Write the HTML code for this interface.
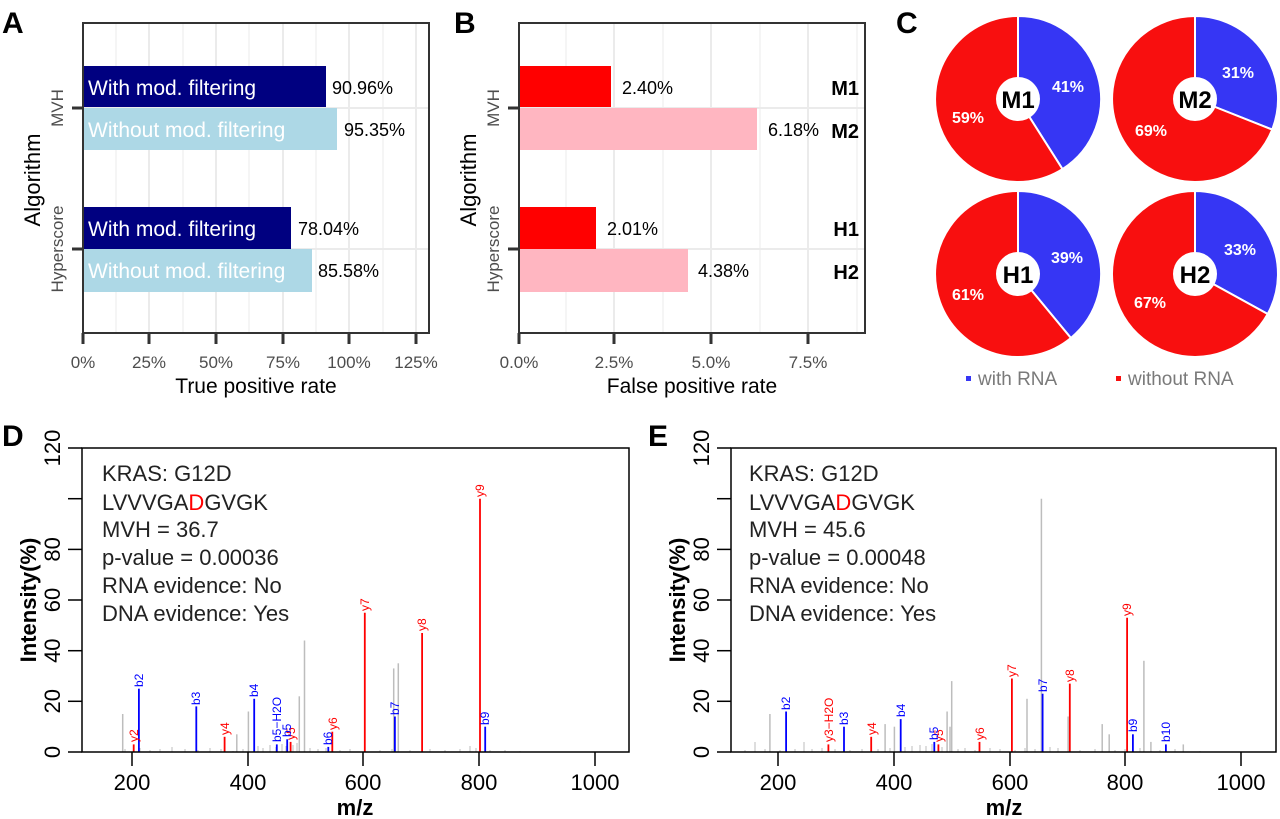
<!DOCTYPE html>
<html><head><meta charset="utf-8"><style>
html,body{margin:0;padding:0;background:#fff;}
svg{display:block;font-family:"Liberation Sans",sans-serif;}
</style></head><body>
<svg width="1280" height="819" viewBox="0 0 1280 819" xmlns="http://www.w3.org/2000/svg">
<!-- Panel letters -->
<g font-weight="bold" font-size="30" fill="#000">
<text x="2" y="33">A</text><text x="454" y="33">B</text><text x="896" y="33">C</text>
<text x="2" y="446">D</text><text x="648" y="446">E</text>
</g>

<!-- Panel A -->
<g>
<g stroke="#ebebeb">
<line x1="116" y1="23" x2="116" y2="333" stroke-width="1"/>
<line x1="183" y1="23" x2="183" y2="333" stroke-width="1"/>
<line x1="249" y1="23" x2="249" y2="333" stroke-width="1"/>
<line x1="316" y1="23" x2="316" y2="333" stroke-width="1"/>
<line x1="383" y1="23" x2="383" y2="333" stroke-width="1"/>
<line x1="149" y1="23" x2="149" y2="333" stroke-width="2"/>
<line x1="216" y1="23" x2="216" y2="333" stroke-width="2"/>
<line x1="283" y1="23" x2="283" y2="333" stroke-width="2"/>
<line x1="349" y1="23" x2="349" y2="333" stroke-width="2"/>
<line x1="416" y1="23" x2="416" y2="333" stroke-width="2"/>
<line x1="83" y1="108" x2="429" y2="108" stroke-width="2"/>
<line x1="83" y1="249" x2="429" y2="249" stroke-width="2"/>
</g>
<rect x="83" y="66" width="243" height="41" fill="#000080"/>
<rect x="83" y="108" width="254" height="42" fill="#add8e6"/>
<rect x="83" y="207" width="208" height="42" fill="#000080"/>
<rect x="83" y="249" width="229" height="43" fill="#add8e6"/>
<g font-size="21" fill="#fff">
<text x="88" y="95">With mod. filtering</text>
<text x="88" y="137">Without mod. filtering</text>
<text x="88" y="236">With mod. filtering</text>
<text x="88" y="278">Without mod. filtering</text>
</g>
<g font-size="18" fill="#000">
<text x="332" y="94">90.96%</text>
<text x="344" y="136">95.35%</text>
<text x="298" y="235">78.04%</text>
<text x="318" y="277">85.58%</text>
</g>
<rect x="83" y="23" width="346" height="310" fill="none" stroke="#333" stroke-width="2"/>
<g stroke="#333" stroke-width="3">
<line x1="72" y1="108" x2="83" y2="108"/><line x1="72" y1="249" x2="83" y2="249"/>
<line x1="83" y1="333" x2="83" y2="344"/><line x1="149" y1="333" x2="149" y2="344"/>
<line x1="216" y1="333" x2="216" y2="344"/><line x1="283" y1="333" x2="283" y2="344"/>
<line x1="349" y1="333" x2="349" y2="344"/><line x1="416" y1="333" x2="416" y2="344"/>
</g>
<g font-size="17" fill="#4d4d4d" text-anchor="middle">
<text x="83" y="368">0%</text><text x="149" y="368">25%</text><text x="216" y="368">50%</text>
<text x="283" y="368">75%</text><text x="349" y="368">100%</text><text x="416" y="368">125%</text>
<text transform="translate(63,108) rotate(-90)">MVH</text>
<text transform="translate(63,249) rotate(-90)">Hyperscore</text>
</g>
<text x="256" y="393" font-size="21" text-anchor="middle">True positive rate</text>
<text transform="translate(40,180) rotate(-90)" font-size="22" text-anchor="middle">Algorithm</text>
</g>

<!-- Panel B -->
<g>
<g stroke="#ebebeb">
<line x1="566" y1="23" x2="566" y2="333" stroke-width="1"/>
<line x1="663" y1="23" x2="663" y2="333" stroke-width="1"/>
<line x1="760" y1="23" x2="760" y2="333" stroke-width="1"/>
<line x1="857" y1="23" x2="857" y2="333" stroke-width="1"/>
<line x1="614" y1="23" x2="614" y2="333" stroke-width="2"/>
<line x1="711" y1="23" x2="711" y2="333" stroke-width="2"/>
<line x1="808" y1="23" x2="808" y2="333" stroke-width="2"/>
<line x1="519" y1="108" x2="865" y2="108" stroke-width="2"/>
<line x1="519" y1="249" x2="865" y2="249" stroke-width="2"/>
</g>
<rect x="519" y="66" width="92" height="41" fill="#ff0000"/>
<rect x="519" y="108" width="238" height="42" fill="#ffb6c1"/>
<rect x="519" y="207" width="77" height="42" fill="#ff0000"/>
<rect x="519" y="249" width="169" height="43" fill="#ffb6c1"/>
<g font-size="18" fill="#000">
<text x="622" y="94">2.40%</text>
<text x="768" y="136">6.18%</text>
<text x="607" y="235">2.01%</text>
<text x="698" y="277">4.38%</text>
</g>
<g font-size="20" font-weight="bold" text-anchor="end">
<text x="859" y="95">M1</text><text x="859" y="138">M2</text>
<text x="859" y="236">H1</text><text x="859" y="279">H2</text>
</g>
<rect x="519" y="23" width="346" height="310" fill="none" stroke="#333" stroke-width="2"/>
<g stroke="#333" stroke-width="3">
<line x1="508" y1="108" x2="519" y2="108"/><line x1="508" y1="249" x2="519" y2="249"/>
<line x1="519" y1="333" x2="519" y2="344"/><line x1="614" y1="333" x2="614" y2="344"/>
<line x1="711" y1="333" x2="711" y2="344"/><line x1="808" y1="333" x2="808" y2="344"/>
</g>
<g font-size="17" fill="#4d4d4d" text-anchor="middle">
<text x="519" y="368">0.0%</text><text x="614" y="368">2.5%</text>
<text x="711" y="368">5.0%</text><text x="808" y="368">7.5%</text>
<text transform="translate(499,108) rotate(-90)">MVH</text>
<text transform="translate(499,249) rotate(-90)">Hyperscore</text>
</g>
<text x="692" y="393" font-size="21" text-anchor="middle">False positive rate</text>
<text transform="translate(476,180) rotate(-90)" font-size="22" text-anchor="middle">Algorithm</text>
</g>

<!-- Panel C -->
<g stroke="#fff" stroke-width="2">
<path d="M1018,99 L1018,16 A83,83 0 0 1 1062.5,169.1 Z" fill="#3636f4"/>
<path d="M1018,99 L1062.5,169.1 A83,83 0 1 1 1018,16 Z" fill="#f80f0f"/>
<path d="M1195,99 L1195,16 A83,83 0 0 1 1272.2,129.6 Z" fill="#3636f4"/>
<path d="M1195,99 L1272.2,129.6 A83,83 0 1 1 1195,16 Z" fill="#f80f0f"/>
<path d="M1018,274 L1018,191 A83,83 0 0 1 1070.9,338 Z" fill="#3636f4"/>
<path d="M1018,274 L1070.9,338 A83,83 0 1 1 1018,191 Z" fill="#f80f0f"/>
<path d="M1195,274 L1195,191 A83,83 0 0 1 1267.7,314 Z" fill="#3636f4"/>
<path d="M1195,274 L1267.7,314 A83,83 0 1 1 1195,191 Z" fill="#f80f0f"/>
</g>
<g fill="#fff">
<circle cx="1018" cy="99" r="22"/><circle cx="1195" cy="99" r="22"/>
<circle cx="1018" cy="274" r="22"/><circle cx="1195" cy="274" r="22"/>
</g>
<g font-size="24" font-weight="bold" text-anchor="middle" fill="#000">
<text x="1018" y="108">M1</text><text x="1195" y="108">M2</text>
<text x="1018" y="283">H1</text><text x="1195" y="283">H2</text>
</g>
<g font-size="16" font-weight="bold" text-anchor="middle" fill="#fff">
<text x="1068" y="92">41%</text><text x="968" y="123">59%</text>
<text x="1238" y="78">31%</text><text x="1151" y="136">69%</text>
<text x="1067" y="263">39%</text><text x="968" y="300">61%</text>
<text x="1240" y="255">33%</text><text x="1150" y="308">67%</text>
</g>
<rect x="966" y="376" width="5" height="5" fill="#3636f4"/>
<rect x="1116" y="376" width="5" height="5" fill="#f80f0f"/>
<g font-size="19" fill="#7a7a7a">
<text x="978" y="385">with RNA</text><text x="1128" y="385">without RNA</text>
</g>

<!-- Panel D -->
<g>
<path d="M125,752V749M140,752V748M150,752V750M160,752V749M172,752V747M185,752V749M198,752V750M210,752V748M221,752V749M233,752V751M243,752V749M258,752V746M263,752V748M270,752V745M276,752V747M282,752V744M286,752V746M293,752V745M297,752V743M310,752V748M318,752V749M326,752V748M340,752V750M350,752V749M365,752V748M380,752V750M392,752V749M410,752V750M430,752V749M445,752V750M460,752V749M470,752V746M476,752V748M490,752V750M505,752V750M520,752V751" stroke="#bdbdbd" stroke-width="1"/>
<g stroke="#bdbdbd" stroke-width="1.5">
<line x1="122.7" y1="752" x2="122.7" y2="714"/>
<line x1="236.8" y1="752" x2="236.8" y2="734.3"/>
<line x1="248.4" y1="752" x2="248.4" y2="711.5"/>
<line x1="299.3" y1="752" x2="299.3" y2="696.3"/>
<line x1="304.5" y1="752" x2="304.5" y2="640.5"/>
<line x1="393.7" y1="752" x2="393.7" y2="668.4"/>
<line x1="398.3" y1="752" x2="398.3" y2="663.3"/>
</g>
<g stroke="#ff0000" stroke-width="1.8">
<line x1="133.7" y1="752" x2="133.7" y2="744.4"/>
<line x1="224.6" y1="752" x2="224.6" y2="736.8"/>
<line x1="290.6" y1="752" x2="290.6" y2="741.9"/>
<line x1="332.3" y1="752" x2="332.3" y2="731.7"/>
<line x1="364.8" y1="752" x2="364.8" y2="612.7"/>
<line x1="422.1" y1="752" x2="422.1" y2="633"/>
<line x1="480" y1="752" x2="480" y2="498.7"/>
</g>
<g stroke="#0000ff" stroke-width="1.8">
<line x1="138.9" y1="752" x2="138.9" y2="688.7"/>
<line x1="196.3" y1="752" x2="196.3" y2="706.4"/>
<line x1="254.2" y1="752" x2="254.2" y2="698.8"/>
<line x1="276.8" y1="752" x2="276.8" y2="744.4"/>
<line x1="287.2" y1="752" x2="287.2" y2="739.3"/>
<line x1="328.3" y1="752" x2="328.3" y2="746.9"/>
<line x1="394.9" y1="752" x2="394.9" y2="716.5"/>
<line x1="485.2" y1="752" x2="485.2" y2="726.7"/>
</g>
<g font-size="12" fill="#ff0000">
<text transform="translate(138,742) rotate(-90)">y2</text>
<text transform="translate(229,735) rotate(-90)">y4</text>
<text transform="translate(295,740) rotate(-90)">y5</text>
<text transform="translate(337,730) rotate(-90)">y6</text>
<text transform="translate(369,611) rotate(-90)">y7</text>
<text transform="translate(426,631) rotate(-90)">y8</text>
<text transform="translate(484,497) rotate(-90)">y9</text>
</g>
<g font-size="12" fill="#0000ff">
<text transform="translate(143,687) rotate(-90)">b2</text>
<text transform="translate(200,705) rotate(-90)">b3</text>
<text transform="translate(258,697) rotate(-90)">b4</text>
<text transform="translate(281,742) rotate(-90)">b5−H2O</text>
<text transform="translate(291,737) rotate(-90)">b5</text>
<text transform="translate(332,745) rotate(-90)">b6</text>
<text transform="translate(399,715) rotate(-90)">b7</text>
<text transform="translate(489,725) rotate(-90)">b9</text>
</g>
<rect x="82" y="448" width="547" height="304" fill="none" stroke="#000" stroke-width="1.5"/>
<g stroke="#000" stroke-width="1.5">
<line x1="68" y1="752" x2="82" y2="752"/><line x1="68" y1="701.3" x2="82" y2="701.3"/>
<line x1="68" y1="650.7" x2="82" y2="650.7"/><line x1="68" y1="600" x2="82" y2="600"/>
<line x1="68" y1="549.4" x2="82" y2="549.4"/><line x1="68" y1="498.7" x2="82" y2="498.7"/>
<line x1="68" y1="448" x2="82" y2="448"/>
<line x1="132" y1="752" x2="132" y2="766"/><line x1="248" y1="752" x2="248" y2="766"/>
<line x1="363" y1="752" x2="363" y2="766"/><line x1="479" y1="752" x2="479" y2="766"/>
<line x1="595" y1="752" x2="595" y2="766"/>
</g>
<g font-size="22" text-anchor="middle">
<text transform="translate(60,752) rotate(-90)">0</text>
<text transform="translate(60,701.3) rotate(-90)">20</text>
<text transform="translate(60,650.7) rotate(-90)">40</text>
<text transform="translate(60,600) rotate(-90)">60</text>
<text transform="translate(60,549.4) rotate(-90)">80</text>
<text transform="translate(60,448) rotate(-90)">120</text>
<text x="132" y="790">200</text><text x="248" y="790">400</text>
<text x="363" y="790">600</text><text x="479" y="790">800</text><text x="595" y="790">1000</text>
</g>
<text x="355" y="815" font-size="22" font-weight="bold" text-anchor="middle">m/z</text>
<text transform="translate(36,600) rotate(-90)" font-size="22" font-weight="bold" text-anchor="middle">Intensity(%)</text>
<g font-size="22" fill="#222">
<text x="102" y="481">KRAS: G12D</text>
<text x="102" y="510">LVVVGA<tspan fill="#ff0000">D</tspan>GVGK</text>
<text x="102" y="537">MVH = 36.7</text>
<text x="102" y="565">p-value = 0.00036</text>
<text x="102" y="593">RNA evidence: No</text>
<text x="102" y="621">DNA evidence: Yes</text>
</g>
</g>

<!-- Panel E -->
<g>
<path d="M745,752V750M755,752V742M765,752V749M780,752V750M795,752V749M804,752V742M812,752V749M822,752V748M835,752V749M850,752V750M862,752V749M878,752V749M890,752V748M905,752V747M912,752V746M920,752V745M926,752V746M932,752V744M942,752V747M958,752V749M965,752V748M975,752V750M990,752V748M1000,752V749M1015,752V750M1025,752V748M1035,752V749M1050,752V747M1058,752V748M1080,752V750M1095,752V749M1115,752V750M1125,752V749M1140,752V748M1160,752V750M1175,752V749M1200,752V751" stroke="#bdbdbd" stroke-width="1"/>
<g stroke="#bdbdbd" stroke-width="1.5">
<line x1="769.9" y1="752" x2="769.9" y2="714"/>
<line x1="885.1" y1="752" x2="885.1" y2="724.1"/>
<line x1="894.4" y1="752" x2="894.4" y2="726.7"/>
<line x1="947.1" y1="752" x2="947.1" y2="711.5"/>
<line x1="950" y1="752" x2="950" y2="726.7"/>
<line x1="951.7" y1="752" x2="951.7" y2="681.1"/>
<line x1="1027" y1="752" x2="1027" y2="698.8"/>
<line x1="1041.4" y1="752" x2="1041.4" y2="498.7"/>
<line x1="1068.1" y1="752" x2="1068.1" y2="716.5"/>
<line x1="1102.2" y1="752" x2="1102.2" y2="724.1"/>
<line x1="1109.2" y1="752" x2="1109.2" y2="734.3"/>
<line x1="1143.9" y1="752" x2="1143.9" y2="660.8"/>
<line x1="1150.9" y1="752" x2="1150.9" y2="741.9"/>
<line x1="1183.3" y1="752" x2="1183.3" y2="744.4"/>
</g>
<g stroke="#ff0000" stroke-width="1.8">
<line x1="828.4" y1="752" x2="828.4" y2="744.4"/>
<line x1="871.2" y1="752" x2="871.2" y2="736.8"/>
<line x1="938.4" y1="752" x2="938.4" y2="744.4"/>
<line x1="979.5" y1="752" x2="979.5" y2="741.9"/>
<line x1="1011.9" y1="752" x2="1011.9" y2="678.5"/>
<line x1="1069.8" y1="752" x2="1069.8" y2="683.6"/>
<line x1="1127.1" y1="752" x2="1127.1" y2="617.7"/>
</g>
<g stroke="#0000ff" stroke-width="1.8">
<line x1="786.1" y1="752" x2="786.1" y2="711.5"/>
<line x1="844" y1="752" x2="844" y2="726.7"/>
<line x1="900.7" y1="752" x2="900.7" y2="719.1"/>
<line x1="934.3" y1="752" x2="934.3" y2="741.9"/>
<line x1="1042.6" y1="752" x2="1042.6" y2="693.7"/>
<line x1="1132.9" y1="752" x2="1132.9" y2="734.3"/>
<line x1="1165.9" y1="752" x2="1165.9" y2="744.4"/>
</g>
<g font-size="12" fill="#ff0000">
<text transform="translate(833,742) rotate(-90)">y3−H2O</text>
<text transform="translate(876,735) rotate(-90)">y4</text>
<text transform="translate(943,742) rotate(-90)">y5</text>
<text transform="translate(984,740) rotate(-90)">y6</text>
<text transform="translate(1016,677) rotate(-90)">y7</text>
<text transform="translate(1074,682) rotate(-90)">y8</text>
<text transform="translate(1131,616) rotate(-90)">y9</text>
</g>
<g font-size="12" fill="#0000ff">
<text transform="translate(790,710) rotate(-90)">b2</text>
<text transform="translate(848,725) rotate(-90)">b3</text>
<text transform="translate(905,717) rotate(-90)">b4</text>
<text transform="translate(938,740) rotate(-90)">b5</text>
<text transform="translate(1047,692) rotate(-90)">b7</text>
<text transform="translate(1137,732) rotate(-90)">b9</text>
<text transform="translate(1170,742) rotate(-90)">b10</text>
</g>
<rect x="731" y="448" width="545" height="304" fill="none" stroke="#000" stroke-width="1.5"/>
<g stroke="#000" stroke-width="1.5">
<line x1="717" y1="752" x2="731" y2="752"/><line x1="717" y1="701.3" x2="731" y2="701.3"/>
<line x1="717" y1="650.7" x2="731" y2="650.7"/><line x1="717" y1="600" x2="731" y2="600"/>
<line x1="717" y1="549.4" x2="731" y2="549.4"/><line x1="717" y1="498.7" x2="731" y2="498.7"/>
<line x1="717" y1="448" x2="731" y2="448"/>
<line x1="778" y1="752" x2="778" y2="766"/><line x1="894" y1="752" x2="894" y2="766"/>
<line x1="1010" y1="752" x2="1010" y2="766"/><line x1="1125" y1="752" x2="1125" y2="766"/>
<line x1="1241" y1="752" x2="1241" y2="766"/>
</g>
<g font-size="22" text-anchor="middle">
<text transform="translate(709,752) rotate(-90)">0</text>
<text transform="translate(709,701.3) rotate(-90)">20</text>
<text transform="translate(709,650.7) rotate(-90)">40</text>
<text transform="translate(709,600) rotate(-90)">60</text>
<text transform="translate(709,549.4) rotate(-90)">80</text>
<text transform="translate(709,448) rotate(-90)">120</text>
<text x="778" y="790">200</text><text x="894" y="790">400</text>
<text x="1010" y="790">600</text><text x="1125" y="790">800</text><text x="1241" y="790">1000</text>
</g>
<text x="1004" y="815" font-size="22" font-weight="bold" text-anchor="middle">m/z</text>
<text transform="translate(685,600) rotate(-90)" font-size="22" font-weight="bold" text-anchor="middle">Intensity(%)</text>
<g font-size="22" fill="#222">
<text x="749" y="481">KRAS: G12D</text>
<text x="749" y="510">LVVVGA<tspan fill="#ff0000">D</tspan>GVGK</text>
<text x="749" y="537">MVH = 45.6</text>
<text x="749" y="565">p-value = 0.00048</text>
<text x="749" y="593">RNA evidence: No</text>
<text x="749" y="621">DNA evidence: Yes</text>
</g>
</g>
</svg>
</body></html>
